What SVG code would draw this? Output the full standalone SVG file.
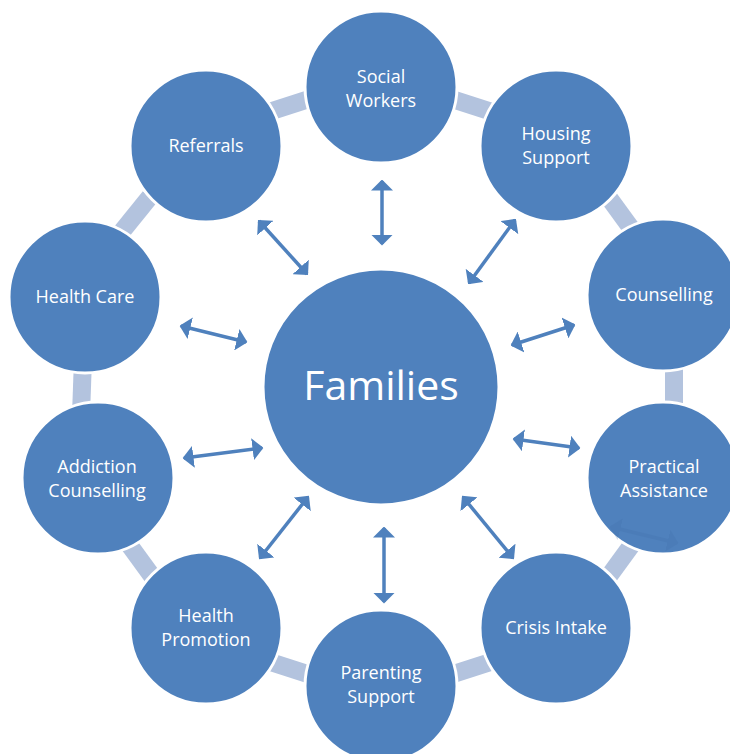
<svg xmlns="http://www.w3.org/2000/svg" width="730" height="754" viewBox="0 0 730 754">
<style>
.node{fill:#4F81BD;stroke:#FFFFFF;stroke-width:3}
.lbl{font-family:"Open Sans","Liberation Sans",sans-serif;font-size:18px;fill:#FFFFFF;text-anchor:middle}
.big{font-family:"Open Sans","Liberation Sans",sans-serif;font-size:41px;fill:#FFFFFF;text-anchor:middle}
.link{fill:#B3C3DE}
.arr{stroke:#4F81BD;stroke-width:3.5;fill:none;marker-start:url(#ah);marker-end:url(#ah)}
.ghost{stroke:#3E6DA8;stroke-width:3.5;fill:none;opacity:0.22;marker-start:url(#ahg);marker-end:url(#ahg)}
</style>
<defs>
<marker id="ah" viewBox="0 0 11 22" markerWidth="11" markerHeight="22" refX="9.5" refY="11" orient="auto-start-reverse" markerUnits="userSpaceOnUse">
<path d="M0,0 L11,11 L0,22 Z" fill="#4F81BD"/>
</marker>
<marker id="ahg" viewBox="0 0 11 22" markerWidth="11" markerHeight="22" refX="9.5" refY="11" orient="auto-start-reverse" markerUnits="userSpaceOnUse">
<path d="M0,0 L11,11 L0,22 Z" fill="#3E6DA8"/>
</marker>
</defs>
<rect width="730" height="754" fill="#FFFFFF"/>
<g id="connectors">
<g id="ring-links">
<rect class="link" x="-22" y="-9" width="44" height="18" transform="translate(472,105.5) rotate(18)"/>
<rect class="link" x="-22" y="-9" width="44" height="18" transform="translate(620,213) rotate(54)"/>
<rect class="link" x="-22" y="-9" width="44" height="18" transform="translate(674,387) rotate(90)"/>
<rect class="link" x="-22" y="-9" width="44" height="18" transform="translate(620,561) rotate(126)"/>
<rect class="link" x="-22" y="-9" width="44" height="18" transform="translate(472,668) rotate(162)"/>
<rect class="link" x="-22" y="-9" width="44" height="18" transform="translate(289,668) rotate(198)"/>
<rect class="link" x="-22" y="-9" width="44" height="18" transform="translate(141,561) rotate(234)"/>
<rect class="link" x="-22" y="-9" width="44" height="18" transform="translate(82,387) rotate(272)"/>
<rect class="link" x="-22" y="-9" width="44" height="18" transform="translate(136,214) rotate(309)"/>
<rect class="link" x="-22" y="-9" width="44" height="18" transform="translate(289,105.5) rotate(342)"/>
</g>
<g id="arrows">
<line class="arr" x1="259" y1="221" x2="307" y2="274"/>
<line class="arr" x1="382" y1="181" x2="382" y2="244"/>
<line class="arr" x1="515" y1="220" x2="469" y2="283"/>
<line class="arr" x1="181" y1="326" x2="246" y2="342"/>
<line class="arr" x1="512" y1="345" x2="574" y2="325"/>
<line class="arr" x1="184" y1="458" x2="262" y2="448"/>
<line class="arr" x1="514" y1="439" x2="579" y2="448"/>
<line class="arr" x1="308" y1="497" x2="260" y2="558"/>
<line class="arr" x1="384" y1="528" x2="384" y2="602"/>
<line class="arr" x1="463" y1="497" x2="513" y2="558"/>
</g>
</g>
<g id="families">
<circle class="node" cx="381" cy="387" r="118"/>
<text class="big" x="381" y="400">Families</text>
</g>
<g id="social-workers">
<circle class="node" cx="381" cy="87" r="76"/>
<text class="lbl" x="381" y="83">Social</text>
<text class="lbl" x="381" y="107">Workers</text>
</g>
<g id="housing-support">
<circle class="node" cx="556" cy="146" r="76"/>
<text class="lbl" x="556" y="140">Housing</text>
<text class="lbl" x="556" y="164">Support</text>
</g>
<g id="counselling">
<circle class="node" cx="663" cy="295" r="76"/>
<text class="lbl" x="664" y="301">Counselling</text>
</g>
<g id="practical-assistance">
<circle class="node" cx="663" cy="478" r="76"/>
<text class="lbl" x="664" y="473">Practical</text>
<text class="lbl" x="664" y="497">Assistance</text>
</g>
<g id="crisis-intake">
<circle class="node" cx="556" cy="628" r="76"/>
<text class="lbl" x="556" y="634">Crisis Intake</text>
</g>
<g id="parenting-support">
<circle class="node" cx="381" cy="686" r="76"/>
<text class="lbl" x="381" y="679">Parenting</text>
<text class="lbl" x="381" y="703">Support</text>
</g>
<g id="health-promotion">
<circle class="node" cx="206" cy="628" r="76"/>
<text class="lbl" x="206" y="622">Health</text>
<text class="lbl" x="206" y="646">Promotion</text>
</g>
<g id="addiction-counselling">
<circle class="node" cx="98" cy="478" r="76"/>
<text class="lbl" x="97" y="473">Addiction</text>
<text class="lbl" x="97" y="497">Counselling</text>
</g>
<g id="health-care">
<circle class="node" cx="85" cy="297" r="76"/>
<text class="lbl" x="85" y="303">Health Care</text>
</g>
<g id="referrals">
<circle class="node" cx="206" cy="146" r="76"/>
<text class="lbl" x="206" y="152">Referrals</text>
</g>
<g id="hidden-arrow">
<line class="ghost" x1="611" y1="527" x2="677" y2="543"/>
</g>
</svg>
